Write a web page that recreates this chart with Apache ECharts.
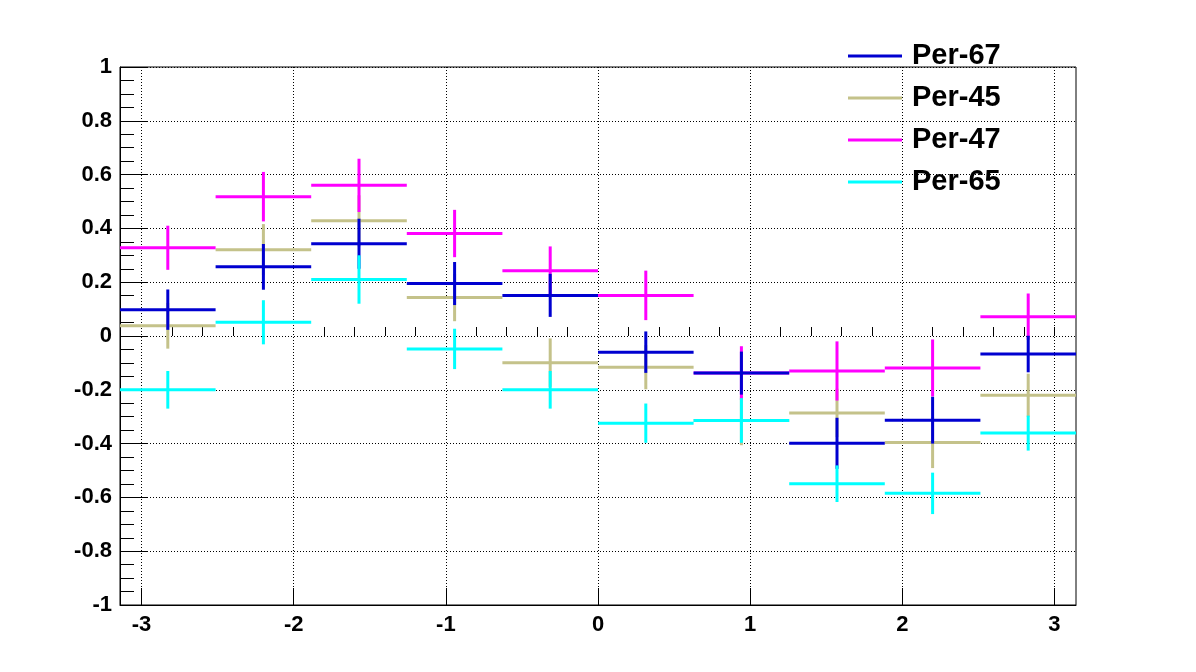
<!DOCTYPE html>
<html>
<head>
<meta charset="utf-8">
<script src="https://cdn.jsdelivr.net/npm/echarts@6/dist/echarts.min.js"></script>
<style>
html,body{margin:0;padding:0;background:#fff;}
#main{width:1196px;height:672px;}
</style>
</head>
<body>
<div id="main"></div>
<script>
// ---- data ----
const nBins = 10;
const xMin = -Math.PI, xMax = Math.PI;
const seriesNames = ['Per-67', 'Per-45', 'Per-47', 'Per-65'];
const per67 = [0.098, 0.257, 0.343, 0.195, 0.151, -0.060, -0.138, -0.399, -0.313, -0.067];
const per67Err = [0.075, 0.085, 0.093, 0.080, 0.080, 0.077, 0.080, 0.095, 0.087, 0.068];
const per45 = [0.038, 0.321, 0.428, 0.143, -0.099, -0.116, -0.314, -0.286, -0.396, -0.220];
const per45Err = [0.085, 0.095, 0.095, 0.088, 0.090, 0.082, 0.092, 0.090, 0.095, 0.080];
const per47 = [0.328, 0.518, 0.560, 0.381, 0.243, 0.151, -0.138, -0.130, -0.119, 0.072];
const per47Err = [0.082, 0.092, 0.099, 0.088, 0.090, 0.092, 0.100, 0.110, 0.106, 0.086];
const per65 = [-0.200, 0.051, 0.210, -0.048, -0.200, -0.324, -0.314, -0.549, -0.585, -0.361];
const per65Err = [0.070, 0.082, 0.090, 0.075, 0.070, 0.073, 0.083, 0.068, 0.077, 0.065];
const xMajorTicks = [-3, -2, -1, 0, 1, 2, 3];
const xMinorTicks = [-2.8, -2.6, -2.4, -2.2, -1.8, -1.6, -1.4, -1.2, -0.8, -0.6, -0.4, -0.2,
                     0.2, 0.4, 0.6, 0.8, 1.2, 1.4, 1.6, 1.8, 2.2, 2.4, 2.6, 2.8, 3.0];

const colors = {'Per-67': '#0000d0', 'Per-45': '#c4c28a', 'Per-47': '#ff00ff', 'Per-65': '#00ffff'};
const valuesBy = {'Per-67': [per67, per67Err], 'Per-45': [per45, per45Err], 'Per-47': [per47, per47Err], 'Per-65': [per65, per65Err]};
const drawOrder = ['Per-45', 'Per-47', 'Per-67', 'Per-65'];

const binW = (xMax - xMin) / nBins;
function buildData(vals, errs) {
  return vals.map((v, i) => [xMin + i * binW, xMin + (i + 1) * binW, v, errs[i]]);
}

function makeSeries(name) {
  const col = colors[name];
  const [vals, errs] = valuesBy[name];
  return {
    type: 'custom',
    name: name,
    xAxisIndex: 0,
    yAxisIndex: 0,
    itemStyle: {color: col},
    encode: {x: [0, 1], y: [2]},
    data: buildData(vals, errs),
    renderItem: function (params, api) {
      const x0 = api.value(0), x1 = api.value(1), y = api.value(2), e = api.value(3);
      const xc = (x0 + x1) / 2;
      const pL = api.coord([x0, y]), pR = api.coord([x1, y]);
      const pT = api.coord([xc, y + e]), pB = api.coord([xc, y - e]);
      return {
        type: 'group',
        children: [
          {type: 'line', shape: {x1: pL[0], y1: pL[1], x2: pR[0], y2: pR[1]}, style: {stroke: col, lineWidth: 3}},
          {type: 'line', shape: {x1: pT[0], y1: pT[1], x2: pB[0], y2: pB[1]}, style: {stroke: col, lineWidth: 3}}
        ]
      };
    }
  };
}

const labelFont = {fontFamily: 'Liberation Sans, Arial, sans-serif', fontWeight: 'bold', fontSize: 22, color: '#000'};

const option = {
  animation: false,
  backgroundColor: '#fff',
  grid: {left: 120, right: 120, top: 67, bottom: 67, show: true, borderColor: '#000', borderWidth: 1, backgroundColor: 'transparent'},
  legend: {
    orient: 'vertical',
    left: 848,
    top: 41,
    padding: 0,
    itemWidth: 54,
    itemHeight: 3,
    itemGap: 12,
    icon: 'rect',
    data: seriesNames,
    textStyle: {fontFamily: 'Liberation Sans, Arial, sans-serif', fontWeight: 'bold', fontSize: 29, color: '#000', lineHeight: 30, padding: [0, 0, 0, 5]}
  },
  xAxis: [
    {
      type: 'value', min: xMin, max: xMax, position: 'bottom',
      axisLine: {show: true, onZero: false, lineStyle: {color: '#000', width: 1}},
      axisTick: {show: true, inside: true, length: 17, customValues: xMajorTicks, lineStyle: {color: '#000'}},
      axisLabel: Object.assign({show: true, margin: 9, customValues: xMajorTicks, formatter: v => String(Math.round(v))}, labelFont),
      splitLine: {show: true, lineStyle: {color: '#000', type: [1, 2], width: 1}}
    },
    {
      type: 'value', min: xMin, max: xMax, position: 'bottom',
      axisLine: {show: false},
      axisTick: {show: true, inside: true, length: 9, customValues: xMinorTicks, lineStyle: {color: '#000'}},
      axisLabel: {show: false},
      splitLine: {show: false}
    }
  ],
  yAxis: {
    type: 'value', min: -1, max: 1, interval: 0.2,
    axisLine: {show: true, onZero: false, lineStyle: {color: '#000', width: 1}},
    axisTick: {show: true, inside: true, length: 28, lineStyle: {color: '#000'}},
    minorTick: {show: true, splitNumber: 4, length: 14, lineStyle: {color: '#000'}},
    axisLabel: Object.assign({margin: 8, formatter: v => String(Math.round(v * 10) / 10)}, labelFont),
    splitLine: {show: true, lineStyle: {color: '#000', type: [1, 2], width: 1}}
  },
  series: drawOrder.map(makeSeries)
};

const chart = echarts.init(document.getElementById('main'), null, {renderer: 'canvas'});
chart.setOption(option);
</script>
</body>
</html>
